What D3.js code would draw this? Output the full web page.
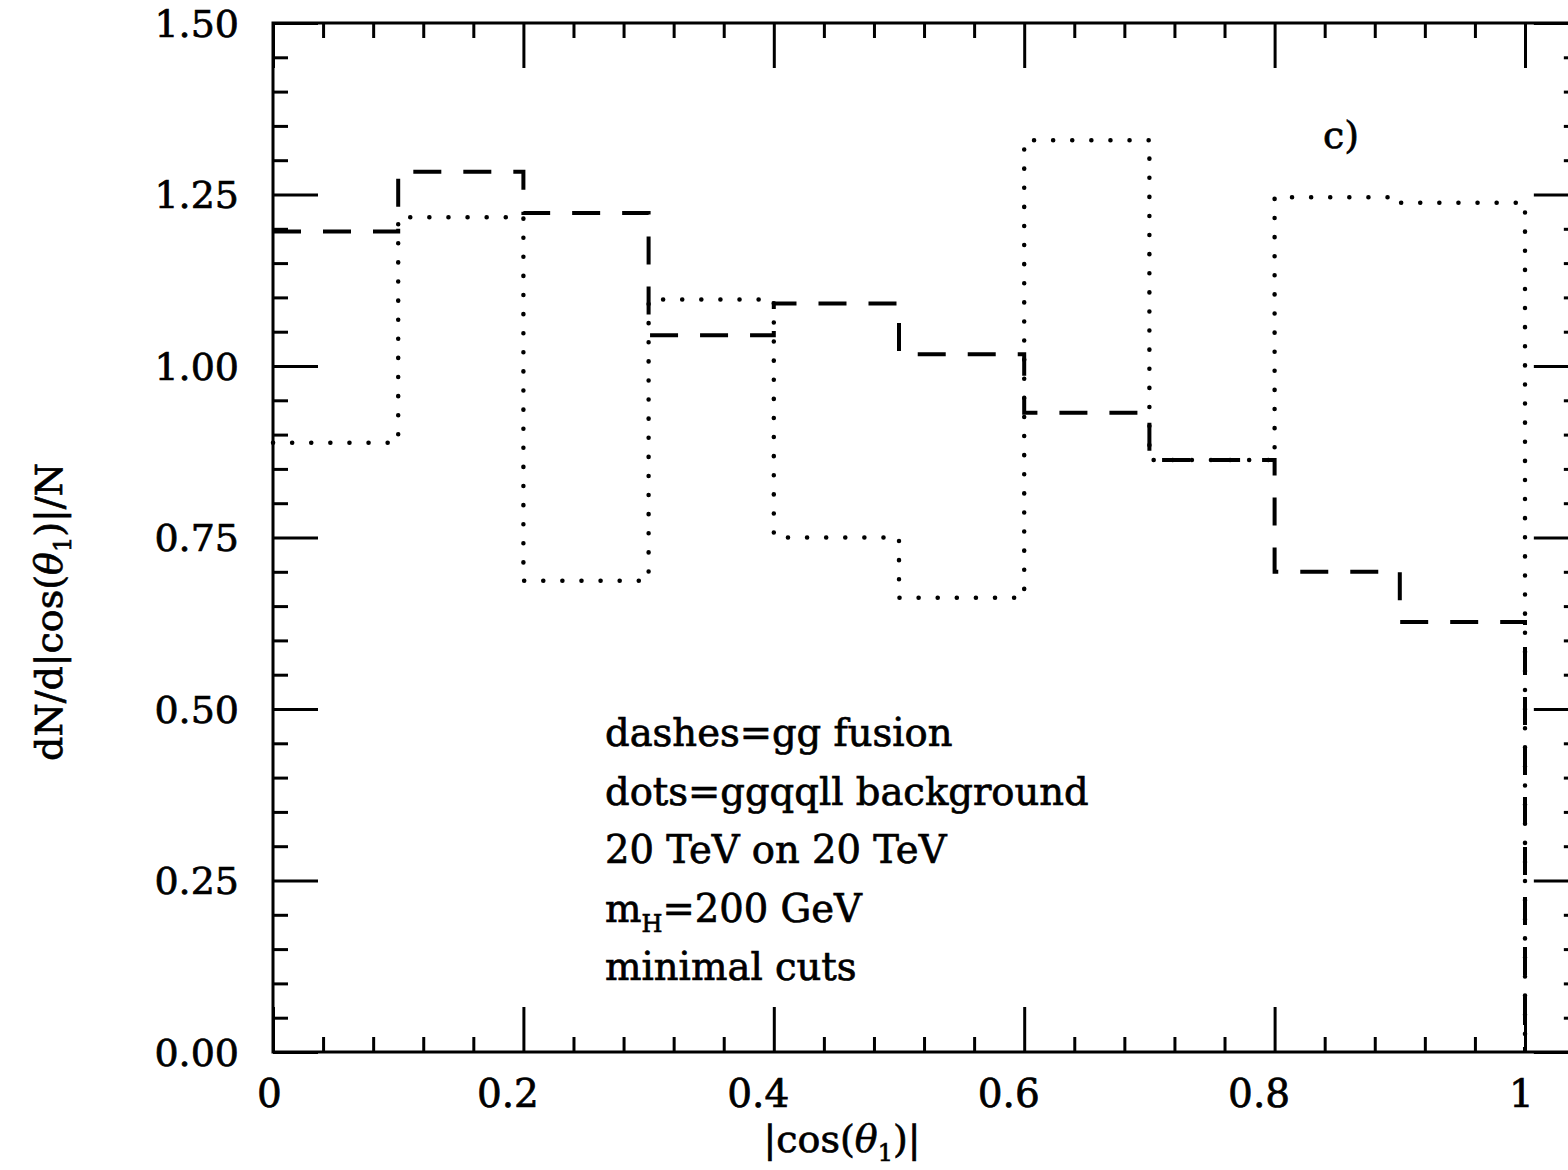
<!DOCTYPE html>
<html>
<head>
<meta charset="utf-8">
<script src="https://cdn.jsdelivr.net/npm/d3@7"></script>
<style>
  body { margin: 0; background: #fff; }
  text { font-family: "DejaVu Serif", serif; fill: #000; stroke: #000; stroke-width: 0.7px; }
  .axis path { stroke: none; }
  .axis line { stroke: #000; stroke-width: 3; }
</style>
</head>
<body>
<svg id="chart"></svg>
<script>
// bin edges in |cos(theta_1)|
const binEdges = [0, 0.1, 0.2, 0.3, 0.4, 0.5, 0.6, 0.7, 0.8, 0.9, 1.0];

// dashes = gg fusion
const ggFusion = [1.196, 1.283, 1.223, 1.045, 1.091, 1.017, 0.932, 0.863, 0.700, 0.627];

// dots = ggqqll background
const ggqqllBackground = [0.888, 1.217, 0.687, 1.097, 0.750, 0.662, 1.329, 0.863, 1.246, 1.238];

const xTickValues = [0, 0.2, 0.4, 0.6, 0.8, 1];
const xTickLabels = ["0", "0.2", "0.4", "0.6", "0.8", "1"];
const yTickValues = [0, 0.25, 0.5, 0.75, 1.0, 1.25, 1.5];
const yTickLabels = ["0.00", "0.25", "0.50", "0.75", "1.00", "1.25", "1.50"];

const noteLines = ["dashes=gg fusion", "dots=ggqqll background", "20 TeV on 20 TeV", "mH=200 GeV", "minimal cuts"];

const width = 1568, height = 1170;
const svg = d3.select('#chart').attr('width', width).attr('height', height);

// frame runs a bit past x=1 (the scan is cut on the right)
const xScale = d3.scaleLinear().domain([0, 1]).range([273, 1525]);
const xFrameMax = 1.043;
const yScale = d3.scaleLinear().domain([0, 1.5]).range([1052, 23]);

const fLeft = xScale(0), fRight = xScale(xFrameMax), fTop = yScale(1.5), fBottom = yScale(0);

// frame
svg.append('rect')
  .attr('x', fLeft).attr('y', fTop)
  .attr('width', fRight - fLeft).attr('height', fBottom - fTop)
  .attr('fill', 'none').attr('stroke', '#000').attr('stroke-width', 3);

const xMinor = d3.range(0, 1.05, 0.04).filter(v => Math.abs(v * 5 - Math.round(v * 5)) > 1e-6);
const yMinor = d3.range(0, 1.51, 0.05).filter(v => Math.abs(v * 4 - Math.round(v * 4)) > 1e-6);

function addAxis(axisFn, scale, pos, values, size, labels) {
  const ax = axisFn(scale).tickValues(values).tickSizeInner(-size).tickSizeOuter(0);
  if (labels) ax.tickFormat((d, i) => labels[i]);
  else ax.tickFormat('');
  return svg.append('g').attr('class', 'axis').attr('transform', pos).call(ax);
}

// bottom
addAxis(d3.axisBottom, xScale, `translate(0,${fBottom})`, xMinor, 15);
const xb = addAxis(d3.axisBottom, xScale, `translate(0,${fBottom})`, xTickValues, 45, xTickLabels);
xb.selectAll('text').attr('font-size', 39).attr('dy', 0)
  .attr('y', 1107 - fBottom)
  .attr('x', (d, i) => (i === 0 || i === xTickValues.length - 1) ? -4 : -16);
// top
addAxis(d3.axisTop, xScale, `translate(0,${fTop})`, xMinor, 15);
addAxis(d3.axisTop, xScale, `translate(0,${fTop})`, xTickValues, 45);
// left
addAxis(d3.axisLeft, yScale, `translate(${fLeft},0)`, yMinor, 15);
const yl = addAxis(d3.axisLeft, yScale, `translate(${fLeft},0)`, yTickValues, 45, yTickLabels);
yl.selectAll('text').attr('font-size', 38).attr('x', -34).attr('dy', '0.35em');
// right
addAxis(d3.axisRight, yScale, `translate(${fRight},0)`, yMinor, 15);
addAxis(d3.axisRight, yScale, `translate(${fRight},0)`, yTickValues, 45);

// histogram outlines
function stepPoints(vals) {
  const pts = [];
  vals.forEach((v, i) => {
    pts.push([binEdges[i], v]);
    pts.push([binEdges[i + 1], v]);
  });
  pts.push([binEdges[binEdges.length - 1], 0]);
  return pts;
}

const line = d3.line().x(d => xScale(d[0])).y(d => yScale(d[1]));

svg.append('path')
  .attr('d', line(stepPoints(ggFusion)))
  .attr('fill', 'none').attr('stroke', '#000').attr('stroke-width', 4)
  .attr('stroke-dasharray', '28,22');

svg.append('path')
  .attr('d', line(stepPoints(ggqqllBackground)))
  .attr('fill', 'none').attr('stroke', '#000').attr('stroke-width', 4.5)
  .attr('stroke-linecap', 'round')
  .attr('stroke-dasharray', '0.1,19');

// panel tag
svg.append('text').attr('x', 1323).attr('y', 148).attr('font-size', 38).text('c)');

// notes
const notes = svg.append('g').attr('font-size', 38.5);
noteLines.forEach((s, i) => {
  const t = notes.append('text').attr('x', 605).attr('y', 746 + i * 58.5);
  if (s.startsWith('mH')) {
    t.append('tspan').text('m');
    t.append('tspan').attr('font-size', 24).attr('dy', 10).text('H');
    t.append('tspan').attr('dy', -10).text(s.slice(2));
  } else {
    t.text(s);
  }
});

// axis titles
const xt = svg.append('text').attr('x', 842).attr('y', 1152).attr('text-anchor', 'middle').attr('font-size', 38);
xt.append('tspan').text('|cos(');
xt.append('tspan').attr('font-style', 'italic').text('θ');
xt.append('tspan').attr('font-size', 24).attr('dy', 9).text('1');
xt.append('tspan').attr('dy', -9).text(')|');

const yt = svg.append('text').attr('transform', 'translate(62,612) rotate(-90)')
  .attr('text-anchor', 'middle').attr('font-size', 38);
yt.append('tspan').text('dN/d|cos(');
yt.append('tspan').attr('font-style', 'italic').text('θ');
yt.append('tspan').attr('font-size', 24).attr('dy', 9).text('1');
yt.append('tspan').attr('dy', -9).text(')|/N');
</script>
</body>
</html>
